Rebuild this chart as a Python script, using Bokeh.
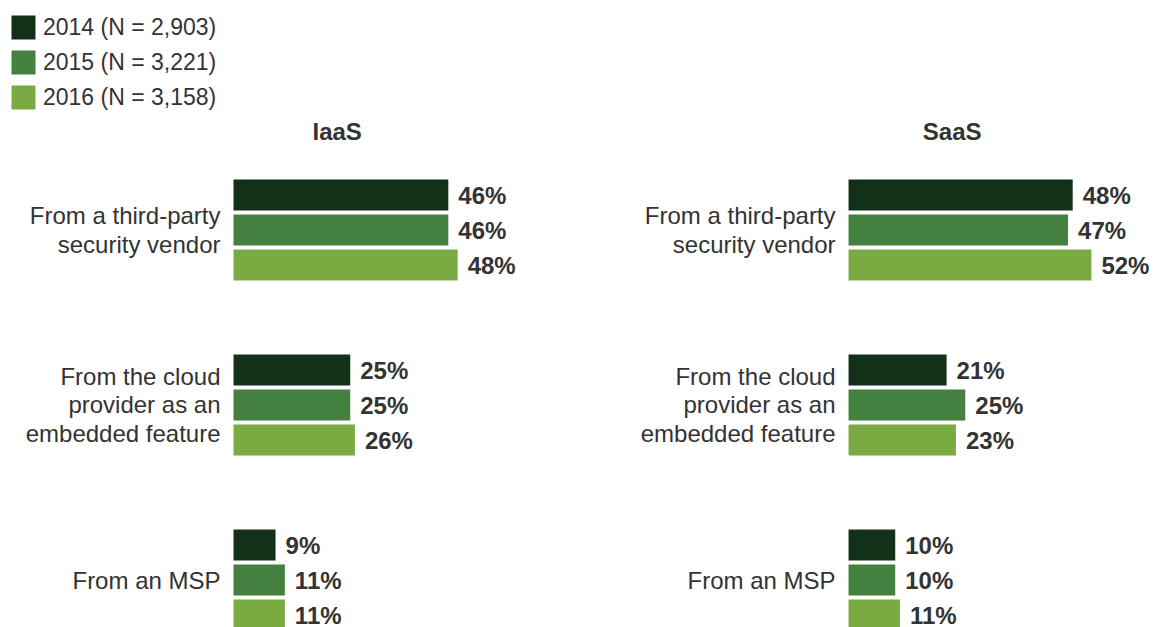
from bokeh.plotting import figure
from bokeh.models import ColumnDataSource, Legend, LegendItem
from bokeh.core.properties import value
from bokeh.embed import file_html
from bokeh.resources import INLINE

# ---- data ----
panels = ["IaaS", "SaaS"]
categories = ["From a third-party\nsecurity vendor",
              "From the cloud\nprovider as an\nembedded feature",
              "From an MSP"]
years = ["2014 (N = 2,903)", "2015 (N = 3,221)", "2016 (N = 3,158)"]
iaas_2014 = [46, 25, 9]
iaas_2015 = [46, 25, 11]
iaas_2016 = [48, 26, 11]
saas_2014 = [48, 21, 10]
saas_2015 = [47, 25, 10]
saas_2016 = [52, 23, 11]
colors = ["#133118", "#44803e", "#7aab42"]

# ---- layout constants ----
W, H = 1156, 627
PX_PER_PCT = 4.67
SLOT_PX = 35.0
LEFT_PX = 233.0          # frame px where IaaS bars start
PANEL_OFFSET = 131.7     # percent units between panel origins
GROUP_STEP = 5
TOP_PX = 194.5           # frame px of first bar centre

x_start = -LEFT_PX / PX_PER_PCT
x_end = x_start + W / PX_PER_PCT
y_end = TOP_PX / SLOT_PX
y_start = y_end - H / SLOT_PX

p = figure(width=W, height=H, output_backend="svg", toolbar_location=None,
           x_range=(x_start, x_end), y_range=(y_start, y_end),
           x_axis_type=None, y_axis_type=None, min_border=0,
           outline_line_color=None, background_fill_color="white")
p.grid.visible = False

FONT_NAME = "Liberation Sans"
FONT = value(FONT_NAME)
TXT = "#333333"

series = [[iaas_2014, saas_2014], [iaas_2015, saas_2015], [iaas_2016, saas_2016]]
renderers = []
for b, (vals, col) in enumerate(zip(series, colors)):
    ys, lefts, rights, labels = [], [], [], []
    for pi in range(len(panels)):
        off = pi * PANEL_OFFSET
        for g, v in enumerate(vals[pi]):
            ys.append(-(g * GROUP_STEP + b))
            lefts.append(off)
            rights.append(off + v)
            labels.append(f"{v}%")
    src = ColumnDataSource(dict(y=ys, left=lefts, right=rights, label=labels))
    r = p.hbar(y="y", left="left", right="right", height=31 / SLOT_PX,
               source=src, fill_color=col, line_color=None)
    renderers.append(r)
    p.text(x="right", y="y", text="label", source=src, x_offset=10,
           text_font=FONT, text_font_style="bold", text_font_size="24px",
           text_color=TXT, text_baseline="middle", text_align="left")

# category labels
cx, cy, ct = [], [], []
for pi in range(len(panels)):
    for g, c in enumerate(categories):
        cx.append(pi * PANEL_OFFSET)
        cy.append(-(g * GROUP_STEP + 1))
        ct.append(c)
p.text(x=cx, y=cy, text=ct, x_offset=-13, text_font=FONT,
       text_font_size="24px", text_color=TXT, text_align="right",
       text_baseline="middle", text_line_height=1.07)

# panel titles
p.text(x=[pi * PANEL_OFFSET + 22.2 for pi in range(len(panels))],
       y=[y_end - 131 / SLOT_PX] * len(panels), text=panels,
       text_font=FONT, text_font_style="bold", text_font_size="24px",
       text_color=TXT, text_align="center", text_baseline="middle")

legend = Legend(items=[LegendItem(label=yr, renderers=[r]) for yr, r in zip(years, renderers)],
                location=(8, H - 12 - 100), margin=0, padding=0, spacing=5,
                glyph_width=30, glyph_height=30, label_height=30,
                label_standoff=5, label_text_font=FONT_NAME,
                label_text_font_size="23px", label_text_color=TXT,
                border_line_color=None, background_fill_alpha=0)
p.add_layout(legend)

open("out.html", "w").write(file_html(p, INLINE))
